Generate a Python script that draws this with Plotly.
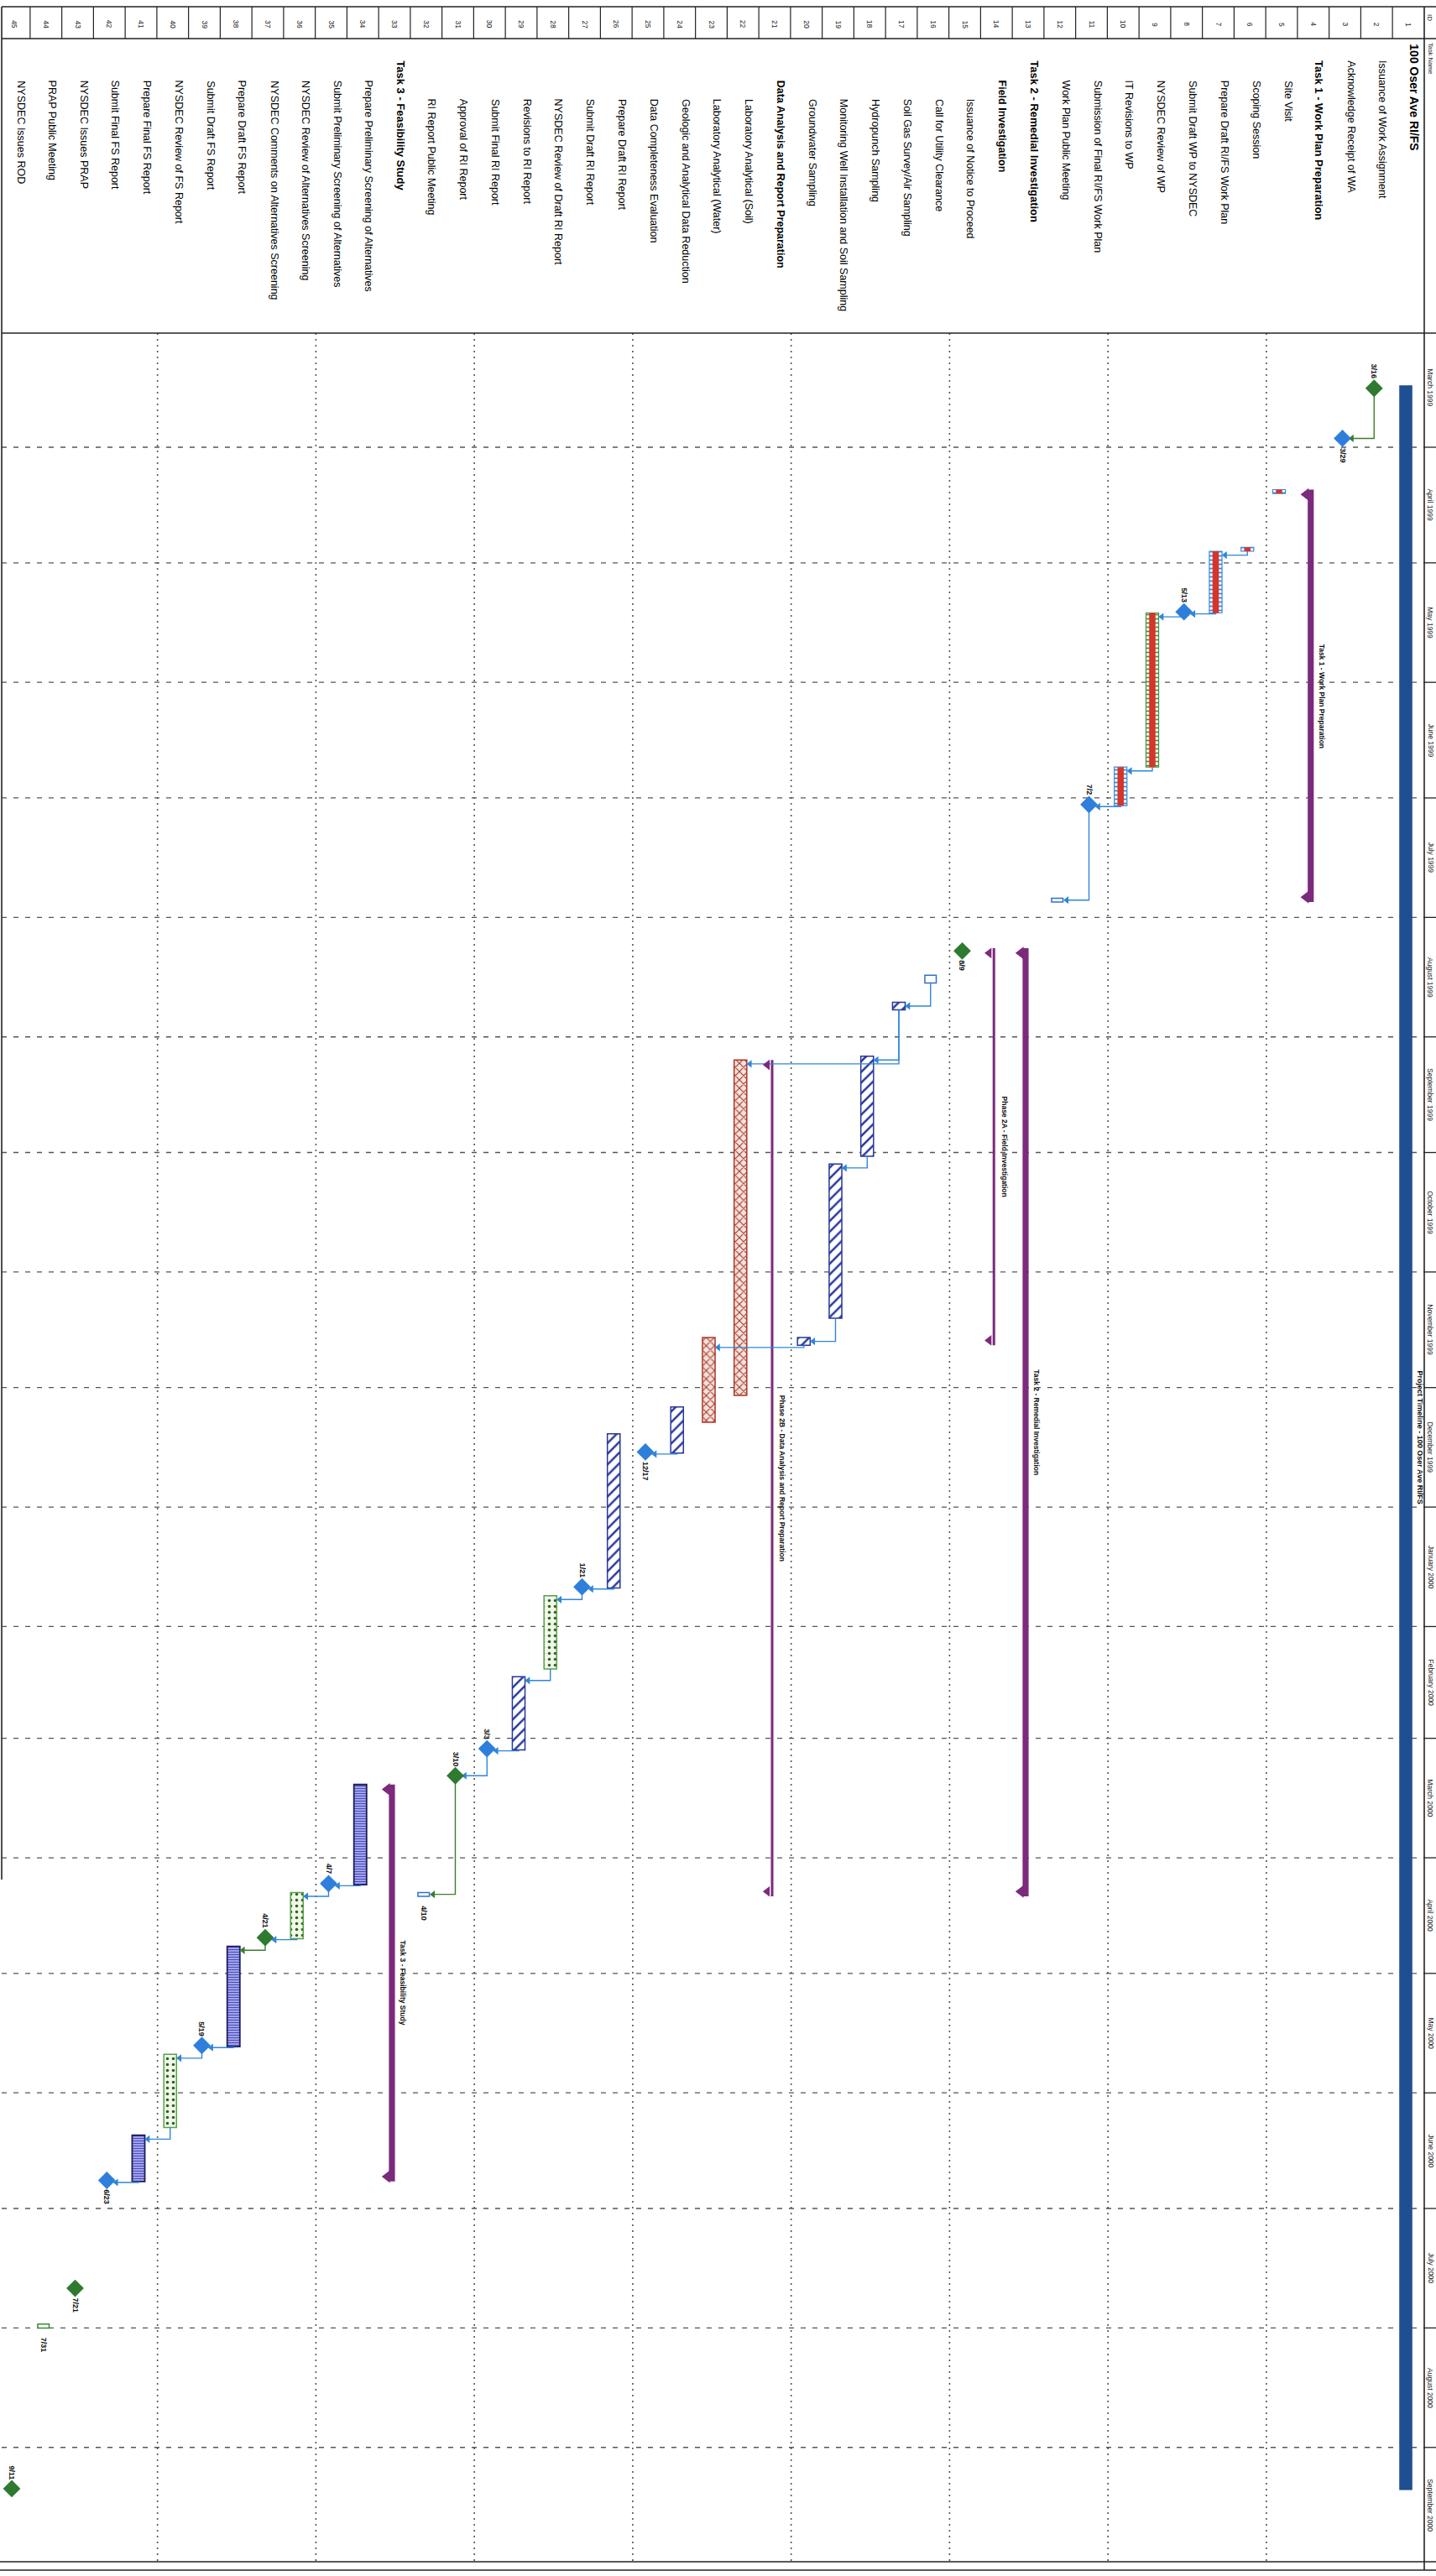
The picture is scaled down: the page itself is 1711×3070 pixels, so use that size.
import pandas as pd
import plotly.graph_objects as go

# ----------------------------------------------------------------------
# Task table
# ----------------------------------------------------------------------
task_ids = list(range(1, 46))
task_names = [
    "100 Oser Ave RI/FS", "Issuance of Work Assignment", "Acknowledge Receipt of WA",
    "Task 1 - Work Plan Preparation", "Site Visit", "Scoping Session",
    "Prepare Draft RI/FS Work Plan", "Submit Draft WP to NYSDEC", "NYSDEC Review of WP",
    "IT Revisions to WP", "Submission of Final RI/FS Work Plan", "Work Plan Public Meeting",
    "Task 2 - Remedial Investigation", "Field Investigation", "Issuance of Notice to Proceed",
    "Call for Utility Clearance", "Soil Gas Survey/Air Sampling", "Hydropunch Sampling",
    "Monitoring Well Installation and Soil Sampling", "Groundwater Sampling",
    "Data Analysis and Report Preparation", "Laboratory Analytical (Soil)",
    "Laboratory Analytical (Water)", "Geologic and Analytical Data Reduction",
    "Data Completeness Evaluation", "Prepare Draft RI Report", "Submit Draft RI Report",
    "NYSDEC Review of Draft RI Report", "Revisions to RI Report", "Submit Final RI Report",
    "Approval of RI Report", "RI Report Public Meeting", "Task 3 - Feasibility Study",
    "Prepare Preliminary Screening of Alternatives", "Submit Preliminary Screening of Alternatives",
    "NYSDEC Review of Alternatives Screening", "NYSDEC Comments on Alternatives Screening",
    "Prepare Draft FS Report", "Submit Draft FS Report", "NYSDEC Review of FS Report",
    "Prepare Final FS Report", "Submit Final FS Report", "NYSDEC Issues PRAP",
    "PRAP Public Meeting", "NYSDEC Issues ROD",
]
outline_levels = [0, 1, 1, 1, 2, 2, 2, 2, 2, 2, 2, 2, 1, 2, 3, 3, 3, 3, 3, 3, 2, 3, 3,
                  3, 3, 3, 3, 3, 3, 3, 3, 3, 1, 2, 2, 2, 2, 2, 2, 2, 2, 2, 2, 2, 2]
bold_ids = [1, 4, 13, 14, 21, 33]

# ----------------------------------------------------------------------
# Schedule
# ----------------------------------------------------------------------
bar_styles = [
    "project", "green", "blue", "summary", "workplan", "workplan", "workplan", "blue",
    "workplan_green", "workplan", "blue", "meeting", "summary", "phase", "green", "meeting",
    "hatch", "hatch", "hatch", "hatch", "phase", "cross", "cross", "hatch", "blue", "hatch",
    "blue", "dots", "hatch", "blue", "green", "meeting", "summary", "dense", "blue", "dots",
    "green", "dense", "blue", "dots", "dense", "blue", "green", "meeting_green", "green",
]
start_dates = [
    "1999-03-16", "1999-03-16", "1999-03-29", "1999-04-12", "1999-04-12", "1999-04-27",
    "1999-04-28", "1999-05-13", "1999-05-14", "1999-06-23", "1999-07-02", "1999-07-27",
    "1999-08-09", "1999-08-09", "1999-08-09", "1999-08-16", "1999-08-23", "1999-09-06",
    "1999-10-04", "1999-11-18", "1999-09-07", "1999-09-07", "1999-11-18", "1999-12-06",
    "1999-12-17", "1999-12-13", "2000-01-21", "2000-01-24", "2000-02-14", "2000-03-03",
    "2000-03-10", "2000-04-10", "2000-03-13", "2000-03-13", "2000-04-07", "2000-04-10",
    "2000-04-21", "2000-04-24", "2000-05-19", "2000-05-22", "2000-06-12", "2000-06-23",
    "2000-07-21", "2000-07-31", "2000-09-11",
]
finish_dates = [
    "2000-09-11", "1999-03-16", "1999-03-29", "1999-07-27", "1999-04-12", "1999-04-27",
    "1999-05-13", "1999-05-13", "1999-06-22", "1999-07-02", "1999-07-02", "1999-07-27",
    "2000-04-10", "1999-11-19", "1999-08-09", "1999-08-17", "1999-08-24", "1999-10-01",
    "1999-11-12", "1999-11-19", "2000-04-10", "1999-12-02", "1999-12-09", "1999-12-17",
    "1999-12-17", "2000-01-21", "2000-01-21", "2000-02-11", "2000-03-03", "2000-03-03",
    "2000-03-10", "2000-04-10", "2000-06-23", "2000-04-07", "2000-04-07", "2000-04-21",
    "2000-04-21", "2000-05-19", "2000-05-19", "2000-06-09", "2000-06-23", "2000-06-23",
    "2000-07-21", "2000-07-31", "2000-09-11",
]

# date call-outs next to milestones / meetings
label_ids = [2, 3, 8, 11, 15, 25, 27, 30, 31, 32, 35, 37, 39, 42, 43, 44, 45]
label_sides = ["above", "below", "above", "above", "below", "below", "above", "above",
               "above", "below", "above", "above", "above", "below", "below", "below", "above"]

# predecessor -> successor links
links = [(2, 3), (6, 7), (7, 8), (8, 9), (9, 10), (10, 11), (11, 12), (16, 17), (17, 18),
         (17, 22), (18, 19), (19, 20), (20, 23), (24, 25), (26, 27), (27, 28), (28, 29),
         (29, 30), (30, 31), (31, 32), (34, 35), (35, 36), (36, 37), (37, 38), (38, 39),
         (39, 40), (40, 41), (41, 42)]
green_links = [(2, 3), (31, 32), (37, 38)]

summary_ids = [1, 4, 13, 14, 21, 33]
summary_texts = [
    "Project Timeline - 100 Oser Ave RI/FS", "Task 1 - Work Plan Preparation",
    "Task 2 - Remedial Investigation", "Phase 2A - Field Investigation",
    "Phase 2B - Data Analysis and Report Preparation", "Task 3 - Feasibility Study",
]

month_starts = [
    "1999-03-01", "1999-04-01", "1999-05-01", "1999-06-01", "1999-07-01", "1999-08-01",
    "1999-09-01", "1999-10-01", "1999-11-01", "1999-12-01", "2000-01-01", "2000-02-01",
    "2000-03-01", "2000-04-01", "2000-05-01", "2000-06-01", "2000-07-01", "2000-08-01",
    "2000-09-01", "2000-10-01",
]
month_names = [
    "March 1999", "April 1999", "May 1999", "June 1999", "July 1999", "August 1999",
    "September 1999", "October 1999", "November 1999", "December 1999", "January 2000",
    "February 2000", "March 2000", "April 2000", "May 2000", "June 2000", "July 2000",
    "August 2000", "September 2000",
]

# ----------------------------------------------------------------------
# Page geometry (rotated Gantt: time runs down, rows run right-to-left)
# ----------------------------------------------------------------------
W, H = 1711, 3070
PX_PER_DAY = 4.593
APR1_PX = 533
ROW1_PX = 1675
ROW_PX = 37.75
TOP_Y, ID_BOT, HEAD_BOT = 8, 46, 397
STRIP_X = 1697
BOT1, BOT2 = 3053, 3063
LEFT_X = 2
NAME_SHIFT = 0.27   # task names sit slightly toward the timescale side of each row
CELL_SHIFT = 0.08   # ID cells are offset a little the same way

ref_day = pd.Timestamp("1999-04-01")
y_top = ref_day - pd.Timedelta(days=APR1_PX / PX_PER_DAY)
y_bottom = ref_day + pd.Timedelta(days=(H - APR1_PX) / PX_PER_DAY)
x_left = 1 + ROW1_PX / ROW_PX
x_right = 1 - (W - ROW1_PX) / ROW_PX

FONT = "Liberation Sans, Arial, sans-serif"
NARROW = "Liberation Sans Narrow, Arial Narrow, Liberation Sans, Arial, sans-serif"
BLUE_LINK = "#2f86d9"
GREEN_LINK = "#3b7d2c"
PURPLE = "#7b2a7c"


def fx(p):
    return p / W


def fy(p):
    return 1 - p / H


def fmt(t):
    return pd.Timestamp(t).strftime("%Y-%m-%d %H:%M:%S")


DAY = pd.Timedelta(days=1)
style_of = dict(zip(task_ids, bar_styles))
is_ms = {i: style_of[i] in ("blue", "green") for i in task_ids}
start_ts, end_ts = {}, {}
for i, s, f in zip(task_ids, start_dates, finish_dates):
    if is_ms[i]:
        t = pd.Timestamp(s) + pd.Timedelta(hours=17)
        start_ts[i] = end_ts[i] = t
    else:
        start_ts[i] = pd.Timestamp(s)
        end_ts[i] = pd.Timestamp(f) + DAY

fig = go.Figure()
shapes, annotations = [], []

# ----------------------------------------------------------------------
# Link lines (drawn first so bars sit on top)
# ----------------------------------------------------------------------
for p, s in links:
    col = GREEN_LINK if (p, s) in green_links else BLUE_LINK
    p_end = end_ts[p]
    if is_ms[s]:
        join = max(p_end + pd.Timedelta(hours=6), start_ts[s])
    else:
        dur = end_ts[s] - start_ts[s]
        join = max(p_end + pd.Timedelta(hours=14), start_ts[s] + min(DAY, dur / 2))
    x_end = s - 0.3
    fig.add_trace(go.Scatter(
        x=[p, p, x_end], y=[fmt(p_end), fmt(join), fmt(join)], mode="lines",
        line=dict(color=col, width=1.4), hoverinfo="skip", showlegend=False))
    fig.add_trace(go.Scatter(
        x=[x_end], y=[fmt(join)], mode="markers",
        marker=dict(symbol="triangle-left", size=8, color=col),
        hoverinfo="skip", showlegend=False))


# ----------------------------------------------------------------------
# Bars
# ----------------------------------------------------------------------
def add_bars(ids_, width, color, line_color=None, line_width=0, pattern=None):
    if not ids_:
        return
    marker = dict(color=color, line=dict(color=line_color or color, width=line_width))
    if pattern:
        marker["pattern"] = pattern
    fig.add_trace(go.Bar(
        x=ids_, base=[fmt(start_ts[i]) for i in ids_],
        y=[(end_ts[i] - start_ts[i]).total_seconds() * 1000 for i in ids_],
        width=[width] * len(ids_), marker=marker, hoverinfo="skip", showlegend=False))


def ids_with(style):
    return [i for i in task_ids if style_of[i] == style]


# overall project bar
add_bars(ids_with("project"), 0.40, "#1f4f93", "#1a4585", 0.5)

# summary bars with end caps
add_bars(ids_with("summary"), 0.19, PURPLE)
add_bars(ids_with("phase"), 0.08, PURPLE)
for st, size in (("summary", 13), ("phase", 11)):
    cx, cy = [], []
    for i in ids_with(st):
        cx += [i + 0.15, i + 0.15]
        cy += [fmt(start_ts[i] + pd.Timedelta(hours=30)), fmt(end_ts[i] - pd.Timedelta(hours=30))]
    fig.add_trace(go.Scatter(x=cx, y=cy, mode="markers",
                             marker=dict(symbol="triangle-left", size=size, color=PURPLE),
                             hoverinfo="skip", showlegend=False))

# work-plan tasks: patterned casing with red core
add_bars(ids_with("workplan"), 0.40, "#ffffff", "#3a86d8", 1.2,
         dict(shape="-", fgcolor="#3a86d8", bgcolor="#ffffff", size=5, solidity=0.35,
              fillmode="replace"))
add_bars(ids_with("workplan_green"), 0.40, "#ffffff", "#4d8f3b", 1.2,
         dict(shape="-", fgcolor="#4d8f3b", bgcolor="#ffffff", size=5, solidity=0.35,
              fillmode="replace"))
add_bars(ids_with("workplan") + ids_with("workplan_green"), 0.2, "#d6352a")

# meetings / short outlined tasks
add_bars(ids_with("meeting"), 0.36, "#ffffff", "#2f6fd0", 1.5)
add_bars(ids_with("meeting_green"), 0.36, "#ffffff", "#3b8a35", 1.5)

# field / report tasks
add_bars(ids_with("hatch"), 0.40, "#ffffff", "#27379a", 1.5,
         dict(shape="/", fgcolor="#27379a", bgcolor="#ffffff", size=9, solidity=0.28,
              fillmode="replace"))
add_bars(ids_with("cross"), 0.40, "#ffffff", "#a8382a", 1.5,
         dict(shape="x", fgcolor="#a8382a", bgcolor="#f7e2dc", size=7, solidity=0.3,
              fillmode="replace"))
add_bars(ids_with("dots"), 0.40, "#ffffff", "#5aa04a", 1.5,
         dict(shape=".", fgcolor="#2f5f23", bgcolor="#f0f8e8", size=7, solidity=0.2,
              fillmode="replace"))
add_bars(ids_with("dense"), 0.40, "#9d9ff0", "#1d1d5c", 1.8,
         dict(shape="-", fgcolor="#4b4db8", bgcolor="#a9abf2", size=3, solidity=0.4,
              fillmode="replace"))

# milestones
for st, col in (("blue", "#2e7fdc"), ("green", "#2e7a31")):
    ms = ids_with(st)
    fig.add_trace(go.Scatter(
        x=ms, y=[fmt(start_ts[i]) for i in ms], mode="markers",
        marker=dict(symbol="diamond", size=16, color=col, line=dict(width=0)),
        hoverinfo="skip", showlegend=False))

# date call-outs
for i, side in zip(label_ids, label_sides):
    d = pd.Timestamp(start_dates[i - 1])
    txt = f"<b>{d.month}/{d.day}</b>"
    if side == "above":
        y, ya, ys = start_ts[i], "bottom", 9
    else:
        y, ya, ys = end_ts[i], "top", -9
    annotations.append(dict(
        x=i, y=fmt(y), xref="x", yref="y", text=txt, showarrow=False, textangle=90,
        xanchor="center", yanchor=ya, yshift=ys, font=dict(family=NARROW, size=9, color="#111")))

# summary bar captions
for i, txt in zip(summary_ids, summary_texts):
    mid = start_ts[i] + (end_ts[i] - start_ts[i]) / 2
    off = 0.45 if i == 1 else 0.34
    annotations.append(dict(
        x=i - off, y=fmt(mid), xref="x", yref="y", text=f"<b>{txt}</b>", showarrow=False,
        textangle=90, xanchor="center", yanchor="middle",
        font=dict(family=NARROW, size=9 if i == 1 else 8.5, color="#111")))

# ----------------------------------------------------------------------
# Grid: month lines (dashed) and every-fifth-row lines (dotted)
# ----------------------------------------------------------------------
for m in month_starts[1:-1]:
    shapes.append(dict(type="line", xref="paper", yref="y", x0=fx(LEFT_X), x1=fx(STRIP_X),
                       y0=fmt(m), y1=fmt(m), layer="below",
                       line=dict(color="#555", width=1.3, dash="6px,8px")))
    shapes.append(dict(type="line", xref="paper", yref="y", x0=fx(STRIP_X), x1=1,
                       y0=fmt(m), y1=fmt(m), line=dict(color="#222", width=1.3)))
for j in range(8):
    xr = 5.4 + 5 * j
    shapes.append(dict(type="line", xref="x", yref="paper", x0=xr, x1=xr,
                       y0=fy(HEAD_BOT), y1=fy(BOT1), layer="below",
                       line=dict(color="#555", width=1.6, dash="2px,5px")))

# month captions in the timescale strip
for k, name in enumerate(month_names):
    a = pd.Timestamp(month_starts[k])
    b = pd.Timestamp(month_starts[k + 1])
    annotations.append(dict(
        x=fx(1704.5), y=fmt(a + (b - a) / 2), xref="paper", yref="y", text=name,
        showarrow=False, textangle=90, xanchor="center", yanchor="middle",
        font=dict(family=NARROW, size=8.5, color="#222")))

# ----------------------------------------------------------------------
# Task table header (ID column + task names)
# ----------------------------------------------------------------------
frame = dict(color="#222", width=1.6)
for y in (TOP_Y, ID_BOT, HEAD_BOT):
    shapes.append(dict(type="line", xref="paper", yref="paper", x0=fx(LEFT_X), x1=1,
                       y0=fy(y), y1=fy(y), line=frame))
shapes.append(dict(type="line", xref="paper", yref="paper", x0=fx(LEFT_X), x1=fx(LEFT_X),
                   y0=fy(TOP_Y), y1=fy(2240), line=frame))
shapes.append(dict(type="line", xref="paper", yref="paper", x0=fx(STRIP_X), x1=fx(STRIP_X),
                   y0=fy(TOP_Y), y1=fy(BOT2), line=frame))
for y in (BOT1, BOT2):
    shapes.append(dict(type="line", xref="paper", yref="paper", x0=0, x1=1,
                       y0=fy(y), y1=fy(y), line=frame))
for i in task_ids:
    xb = i + 0.5 - CELL_SHIFT
    shapes.append(dict(type="line", xref="x", yref="paper", x0=xb, x1=xb,
                       y0=fy(TOP_Y), y1=fy(ID_BOT), line=dict(color="#222", width=1.2)))

annotations.append(dict(x=fx(1704), y=fy(15), xref="paper", yref="paper", text="ID",
                        showarrow=False, textangle=90, xanchor="center", yanchor="top",
                        font=dict(family=FONT, size=8, color="#222")))
annotations.append(dict(x=fx(1704), y=fy(49), xref="paper", yref="paper", text="Task Name",
                        showarrow=False, textangle=90, xanchor="center", yanchor="top",
                        font=dict(family=FONT, size=7.5, color="#222")))

name_top = {0: 50, 1: 70, 2: 94, 3: 116}
for i, name, lvl in zip(task_ids, task_names, outline_levels):
    annotations.append(dict(
        x=i - CELL_SHIFT, y=fy(29), xref="x", yref="paper", text=str(i),
        showarrow=False, textangle=90, xanchor="center", yanchor="middle",
        font=dict(family=FONT, size=8.5, color="#222")))
    bold = i in bold_ids
    size = 14 if lvl == 0 else (13 if (bold and lvl == 1) else 12.5)
    annotations.append(dict(
        x=i - NAME_SHIFT, y=fy(name_top[lvl]), xref="x", yref="paper",
        text=f"<b>{name}</b>" if bold else name,
        showarrow=False, textangle=90, xanchor="center", yanchor="top",
        font=dict(family=FONT, size=size, color="#000")))

fig.update_layout(
    width=W, height=H, margin=dict(l=0, r=0, t=0, b=0, pad=0),
    paper_bgcolor="white", plot_bgcolor="white", barmode="overlay", showlegend=False,
    xaxis=dict(range=[x_left, x_right], visible=False, fixedrange=True),
    yaxis=dict(type="date", range=[fmt(y_bottom), fmt(y_top)], visible=False, fixedrange=True),
    shapes=shapes, annotations=annotations,
)

fig.write_html("out.html", config={"displayModeBar": False})
